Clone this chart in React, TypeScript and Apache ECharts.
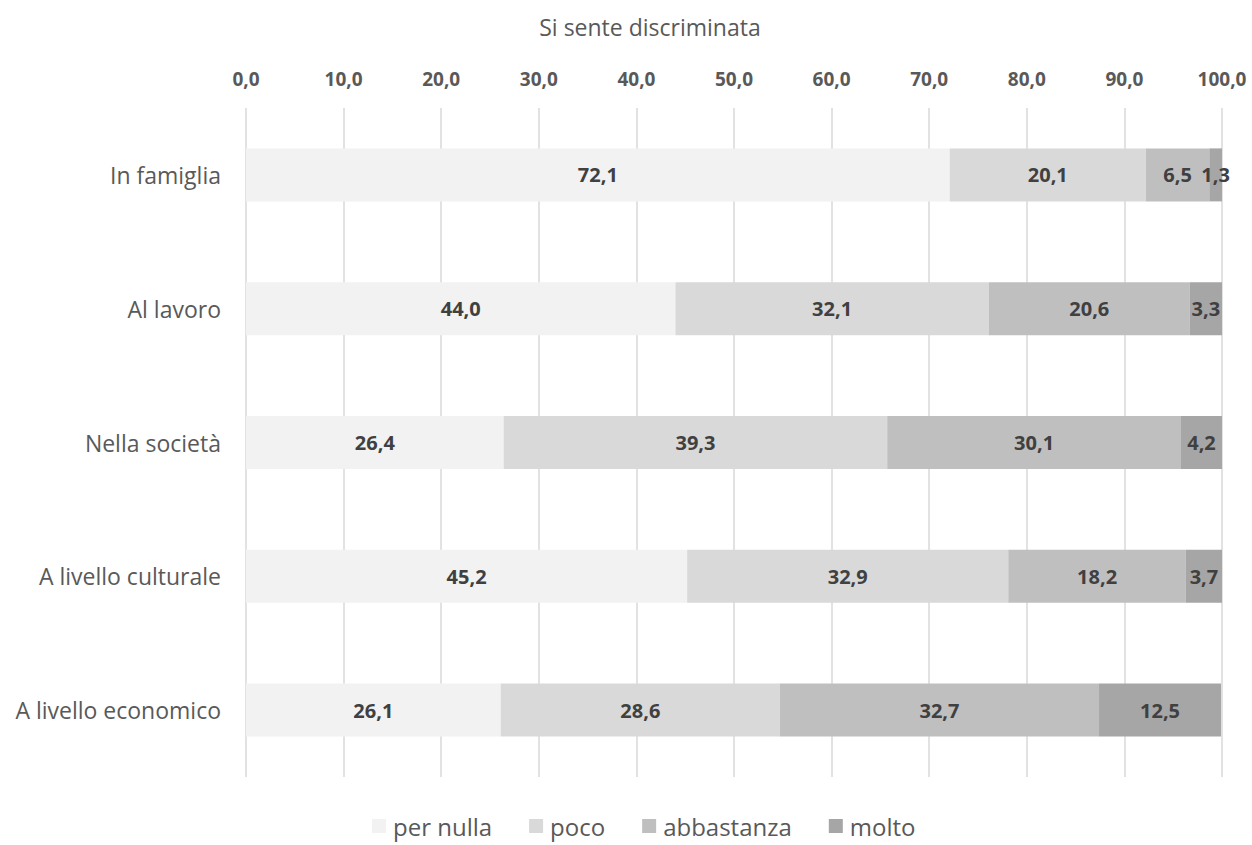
import React, { useEffect, useRef } from "react";
import * as echarts from "echarts";

const categories = ["In famiglia", "Al lavoro", "Nella società", "A livello culturale", "A livello economico"];
const seriesNames = ["per nulla", "poco", "abbastanza", "molto"];
const perNulla = [72.1, 44.0, 26.4, 45.2, 26.1];
const poco = [20.1, 32.1, 39.3, 32.9, 28.6];
const abbastanza = [6.5, 20.6, 30.1, 18.2, 32.7];
const molto = [1.3, 3.3, 4.2, 3.7, 12.5];
const colors = ["#f2f2f2", "#d9d9d9", "#bfbfbf", "#a6a6a6"];
const xTicks = [0, 10, 20, 30, 40, 50, 60, 70, 80, 90, 100];

const FONT = "'Open Sans', sans-serif";

export default function App() {
  const ref = useRef<HTMLDivElement>(null);
  useEffect(() => {
    document.body.style.margin = "0";
    const chart = echarts.init(ref.current!, null, { renderer: "svg" });
    const values = [perNulla, poco, abbastanza, molto];
    chart.setOption({
      animation: false,
      textStyle: { fontFamily: FONT },
      title: {
        text: "Si sente discriminata",
        left: 645,
        top: 10,
        textAlign: "center",
        textStyle: { fontFamily: FONT, fontSize: 23, fontWeight: "normal", color: "#595959" },
      },
      legend: {
        data: seriesNames,
        bottom: 2,
        left: 367,
        itemWidth: 14,
        itemHeight: 14,
        itemGap: 37,
        icon: "rect",
        textStyle: { fontFamily: FONT, fontSize: 24, color: "#595959", padding: [0, 0, 0, 2] },
      },
      grid: { left: 246, right: 30, top: 108, bottom: 68, containLabel: false },
      xAxis: {
        type: "value",
        position: "top",
        min: xTicks[0],
        max: xTicks[xTicks.length - 1],
        interval: 10,
        axisLine: { show: false },
        axisTick: { show: false },
        splitLine: { show: true, lineStyle: { color: "#d9d9d9", width: 1.5 } },
        axisLabel: {
          margin: 20,
          fontFamily: FONT,
          fontSize: 19,
          fontWeight: "bold",
          color: "#595959",
          formatter: (v: number) => v.toFixed(1).replace(".", ","),
        },
      },
      yAxis: {
        type: "category",
        data: categories,
        inverse: true,
        axisLine: { show: false },
        axisTick: { show: false },
        axisLabel: { margin: 25, fontFamily: FONT, fontSize: 23, color: "#595959" },
      },
      series: seriesNames.map((name, i) => ({
        name,
        type: "bar",
        stack: "total",
        barWidth: 53,
        data: values[i],
        itemStyle: { color: colors[i] },
        label: {
          show: true,
          position: "inside",
          fontFamily: FONT,
          fontSize: 20,
          fontWeight: "bold",
          color: "#404040",
          formatter: (p: any) => Number(p.value).toFixed(1).replace(".", ","),
        },
      })),
    });
    return () => chart.dispose();
  }, []);
  return <div ref={ref} style={{ width: 1252, height: 845 }} />;
}
